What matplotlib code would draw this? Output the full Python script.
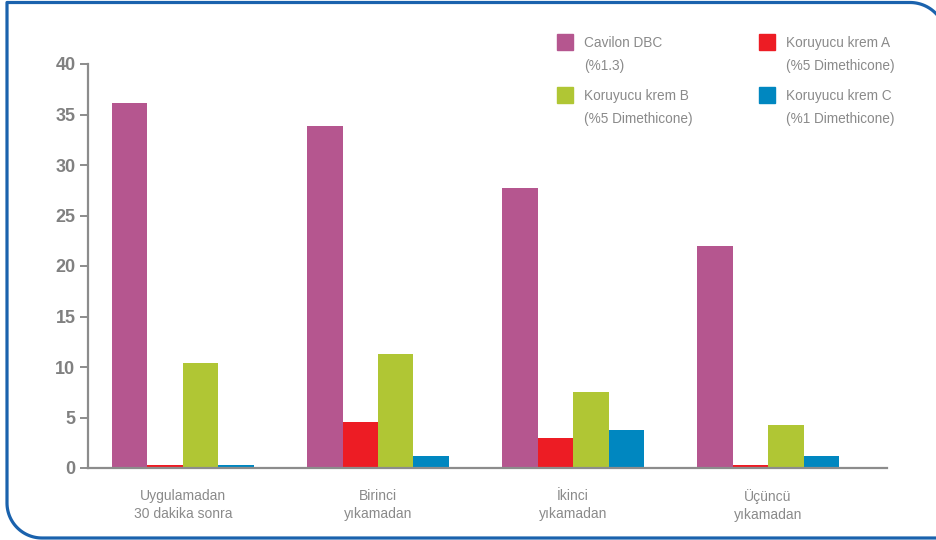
import numpy as np
import matplotlib
matplotlib.use("Agg")
import matplotlib.pyplot as plt
from matplotlib.patches import Rectangle

plt.rcParams['font.family'] = ['Liberation Sans Narrow', 'Liberation Sans', 'DejaVu Sans']

# data
groups = ["Uygulamadan\n30 dakika sonra", "Birinci\nyıkamadan", "İkinci\nyıkamadan", "Üçüncü\nyıkamadan"]
series = ["Cavilon DBC\n(%1.3)", "Koruyucu krem A\n(%5 Dimethicone)",
          "Koruyucu krem B\n(%5 Dimethicone)", "Koruyucu krem C\n(%1 Dimethicone)"]
cavilon = [36.1, 33.9, 27.7, 22.0]
krem_a = [0.25, 4.55, 3.0, 0.25]
krem_b = [10.4, 11.3, 7.5, 4.25]
krem_c = [0.25, 1.2, 3.8, 1.2]
colors = ["#b5568f", "#ed1c24", "#b0c634", "#0087c0"]
yticks = [0, 5, 10, 15, 20, 25, 30, 35, 40]

W, H = 937, 540
fig = plt.figure(figsize=(W / 100, H / 100), dpi=100)

# background frame (pixel coordinates)
bg = fig.add_axes([0, 0, 1, 1])
bg.set_xlim(0, W)
bg.set_ylim(H, 0)
bg.axis("off")
t = np.linspace(0, np.pi / 2, 30)
r1, r2 = 35, 36
px = np.concatenate([[960], 42 - r1 * np.sin(t), [7, 910 - 0.01], 910 + r2 * np.sin(t), [946]])
py = np.concatenate([[538], 503 + r1 * np.cos(t), [2.5, 2.5], 38.5 - r2 * np.cos(t), [560]])
bg.plot(px, py, color="#1a62ad", lw=2.3, solid_capstyle="butt")

ax = fig.add_axes([88 / W, 1 - 468 / H, 799 / W, 404 / H])
ax.patch.set_visible(False)
data = [cavilon, krem_a, krem_b, krem_c]
x = np.arange(len(groups))
w = 0.182
for i, vals in enumerate(data):
    ax.bar(x + (i - 1.5) * w, vals, width=w, color=colors[i], zorder=2)

ax.set_xlim(-0.487, 3.61)
ax.set_ylim(0, 40)
ax.set_yticks(yticks)
ax.set_xticks(x)
ax.set_xticklabels(groups, fontsize=10, color="#8a8a8a", linespacing=1.4)
for s in ["top", "right"]:
    ax.spines[s].set_visible(False)
for s in ["left", "bottom"]:
    ax.spines[s].set_color("#8c8c8c")
    ax.spines[s].set_linewidth(1.6)
    ax.spines[s].set_zorder(3)
ax.tick_params(axis="y", length=6, width=1.4, color="#8c8c8c", pad=3,
               labelsize=13, labelcolor="#808080")
ax.tick_params(axis="x", length=0, pad=15)
for lab in ax.get_yticklabels():
    lab.set_fontweight("bold")

# legend drawn by hand, two columns
leg_x = [557, 759]
leg_y = [34, 87]
for k, (name, c) in enumerate(zip(series, colors)):
    cx = leg_x[k % 2]
    cy = leg_y[k // 2]
    bg.add_patch(Rectangle((cx, cy), 16, 16, color=c))
    bg.text(cx + 27, cy + 2, name, fontsize=9.8, color="#8a8a8a", va="top",
            ha="left", linespacing=1.8)

fig.savefig("out.png", dpi=100)
